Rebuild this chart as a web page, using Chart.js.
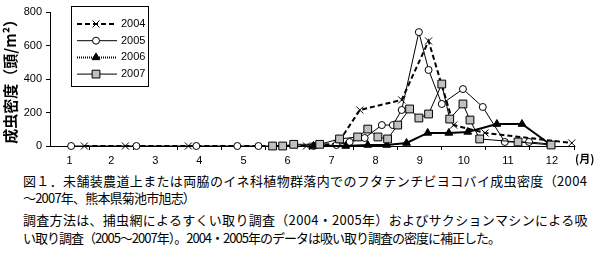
<!DOCTYPE html>
<html>
<head>
<meta charset="utf-8">
<script src="https://cdn.jsdelivr.net/npm/chart.js@4"></script>
<style>
body { margin: 0; background: #fff; }
#wrap { position: relative; width: 594px; height: 254px; }
#chartBox { position: absolute; left: 0; top: 0; width: 594px; height: 168px; }
.cap { position: absolute; left: 23px; font: 13px "Noto Sans CJK JP"; line-height: 17px; white-space: nowrap; color: #000; }
</style>
</head>
<body>
<div id="wrap">
  <div id="chartBox"><canvas id="graphCanvas"></canvas></div>
  <div class="cap" style="top:172px;letter-spacing:0.35px">図１．未舗装農道上または両脇のイネ科植物群落内でのフタテンチビヨコバイ成虫密度（2004</div>
  <div class="cap" style="top:189px;letter-spacing:-0.8px">～2007年、熊本県菊池市旭志）</div>
  <div class="cap" style="top:211px;letter-spacing:0.3px">調査方法は、捕虫網によるすくい取り調査（2004・2005年）およびサクションマシンによる吸</div>
  <div class="cap" style="top:229px;letter-spacing:-1px">い取り調査（2005～2007年）。2004・2005年のデータは吸い取り調査の密度に補正した。</div>
</div>
<script>
// x values are in months (1.0 = Jan 1, 13.0 = end of Dec)
const monthLabels = ["1", "2", "3", "4", "5", "6", "7", "8", "9", "10", "11", "12"];
const yTicks = [0, 200, 400, 600, 800];

const x2004 = [1.89, 2.82, 4.25, 6.93, 7.64, 8.14, 9.09, 9.70, 10.27, 10.98, 12.95];
const y2004 = [0, 0, 0, 0, 15, 215, 275, 627, 125, 78, 18];

const x2005 = [1.59, 3.07, 4.43, 5.36, 5.84, 7.09, 7.61, 7.91, 8.25, 8.64, 8.89, 9.09, 9.48, 9.70, 10.0, 10.48, 10.93, 11.43, 11.98, 12.45];
const y2005 = [0, 0, 0, 0, 0, 0, 6, 24, 48, 125, 125, 215, 680, 454, 251, 340, 233, 24, 24, 12];

const x2006 = [7.09, 7.82, 8.32, 8.75, 9.2, 9.68, 10.16, 10.59, 11.25, 11.82, 12.48];
const y2006 = [0, 0, 6, 6, 18, 78, 78, 84, 131, 131, 6];

const x2007 = [6.16, 6.39, 6.64, 7.23, 7.68, 8.09, 8.32, 8.55, 8.77, 9.0, 9.27, 9.48, 9.70, 10.0, 10.18, 10.48, 10.64, 10.86, 11.73, 12.48];
const y2007 = [0, 0, 10, 10, 42, 54, 101, 54, 42, 125, 221, 167, 191, 370, 161, 251, 155, 42, 24, 6];

const xMin = 1.11, xMax = 13;

function toPoints(xs, ys) {
    return xs.map((x, i) => ({ x: x, y: ys[i] }));
}

// label positions: middle of each month (first month: middle of the visible part)
const labelPos = monthLabels.map((m, i) => i === 0 ? (xMin + 2) / 2 : i + 1.5);
const monthEdges = [];
for (let m = 2; m <= 13; m++) monthEdges.push(m);

// Box legend drawn inside the plot
const boxLegend = {
    id: "boxLegend",
    afterDraw(chart) {
        const ctx = chart.ctx;
        ctx.save();
        ctx.fillStyle = "#fff";
        ctx.fillRect(71, 6, 77, 80);
        ctx.strokeStyle = "#000";
        ctx.lineWidth = 1;
        ctx.strokeRect(71.5, 6.5, 77, 80);
        chart.data.datasets.forEach((ds, i) => {
            const y = 24 + i * 16.7;
            ctx.strokeStyle = "#000";
            ctx.lineWidth = ds.borderWidth;
            ctx.setLineDash(ds.legendDash || ds.borderDash || []);
            ctx.beginPath();
            ctx.moveTo(77, y);
            ctx.lineTo(117, y);
            ctx.stroke();
            ctx.setLineDash([]);
            ctx.fillStyle = ds.pointBackgroundColor;
            ctx.strokeStyle = ds.pointBorderColor;
            ctx.lineWidth = ds.pointBorderWidth;
            Chart.helpers.drawPoint(ctx, {
                pointStyle: ds.pointStyle,
                radius: ds.pointRadius,
                rotation: 0,
                borderWidth: ds.pointBorderWidth
            }, 96, y);
            ctx.fillStyle = "#000";
            ctx.font = "11px 'Liberation Sans'";
            ctx.textBaseline = "middle";
            ctx.textAlign = "left";
            ctx.fillText(ds.label, 121, y);
        });
        // unit of the x axis
        const xs = chart.scales.x;
        ctx.font = "bold 11px 'Noto Sans CJK JP'";
        ctx.textBaseline = "middle";
        ctx.fillText("(月)", xs.right + 1, 159);
        ctx.restore();
    }
};

Chart.defaults.font.family = "'Liberation Sans'";
Chart.defaults.font.size = 11;
Chart.defaults.color = "#000";

const ctx = document.getElementById("graphCanvas").getContext("2d");
new Chart(ctx, {
    type: "line",
    data: {
        datasets: [
            {
                label: "2004",
                data: toPoints(x2004, y2004),
                borderColor: "#000",
                borderWidth: 2,
                borderDash: [5, 3],
                pointStyle: "crossRot",
                pointRadius: 5,
                pointBorderWidth: 1,
                pointBackgroundColor: "#000",
                pointBorderColor: "#000",
                order: 3,
                clip: false
            },
            {
                label: "2005",
                data: toPoints(x2005, y2005),
                borderColor: "#000",
                borderWidth: 1,
                pointStyle: "circle",
                pointRadius: 3.5,
                pointBorderWidth: 1,
                pointBackgroundColor: "#fff",
                pointBorderColor: "#000",
                order: 2,
                clip: false
            },
            {
                label: "2006",
                data: toPoints(x2006, y2006),
                borderColor: "#000",
                borderWidth: 2,
                legendDash: [1, 1],
                pointStyle: "triangle",
                pointRadius: 4.5,
                pointBorderWidth: 1,
                pointBackgroundColor: "#000",
                pointBorderColor: "#000",
                order: 1,
                clip: false
            },
            {
                label: "2007",
                data: toPoints(x2007, y2007),
                borderColor: "#000",
                borderWidth: 1,
                pointStyle: "rect",
                pointRadius: 5.5,
                pointBorderWidth: 1,
                pointBackgroundColor: "#c0c0c0",
                pointBorderColor: "#000",
                order: 0,
                clip: false
            }
        ]
    },
    options: {
        responsive: true,
        maintainAspectRatio: false,
        animation: false,
        layout: { padding: { top: 12, right: 20, left: 0, bottom: 0 } },
        plugins: { legend: { display: false }, tooltip: { enabled: false } },
        scales: {
            x: {
                type: "linear",
                min: xMin,
                max: xMax,
                afterBuildTicks: s => {
                    s.ticks = monthEdges.concat(labelPos).sort((a, b) => a - b).map(v => ({ value: v }));
                },
                afterFit: s => { s.height = 22; },
                ticks: {
                    autoSkip: false,
                    maxRotation: 0,
                    padding: 4,
                    callback: v => {
                        const i = labelPos.indexOf(v);
                        return i >= 0 ? monthLabels[i] : "";
                    }
                },
                grid: {
                    drawOnChartArea: false,
                    tickLength: 4,
                    tickColor: c => (c.tick && Number.isInteger(c.tick.value)) ? "#000" : "rgba(0,0,0,0)"
                },
                border: { color: "#000", width: 1 }
            },
            y: {
                min: 0,
                max: 800,
                afterBuildTicks: s => { s.ticks = yTicks.map(v => ({ value: v })); },
                afterFit: s => { s.width = 50; },
                ticks: { padding: 4 },
                grid: { drawOnChartArea: false, tickLength: 4, tickColor: "#000" },
                border: { color: "#000", width: 1 },
                title: {
                    display: true,
                    text: "成虫密度（頭/m²）",
                    align: "end",
                    font: { family: "'Noto Sans CJK JP'", size: 15, weight: "bold" },
                    padding: { top: 1, bottom: 0 }
                }
            }
        }
    },
    plugins: [boxLegend]
});
</script>
</body>
</html>
